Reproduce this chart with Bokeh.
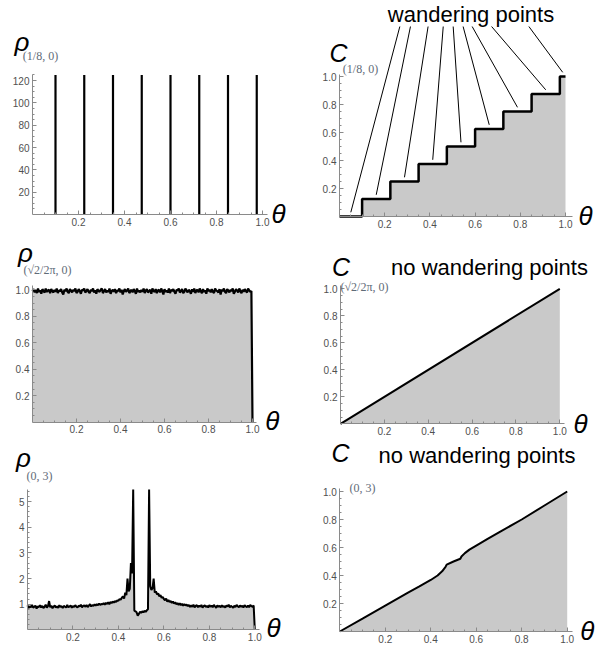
import numpy as np
from bokeh.plotting import figure
from bokeh.layouts import column, row
from bokeh.models import FixedTicker, PrintfTickFormatter, Label, Range1d
from bokeh.embed import file_html
from bokeh.resources import INLINE

# ---------------- data ----------------
# panel 1: density of (1/8, 0): atoms (spikes); plot range clips them at 125
atom_theta = [0.1, 0.225, 0.35, 0.475, 0.6, 0.725, 0.85, 0.975]
atom_rho = [130, 130, 130, 130, 130, 130, 130, 130]
rho1_top = 125

# panel 2: cumulative C for (1/8, 0): staircase
step_theta = [0.0, 0.1, 0.225, 0.35, 0.475, 0.6, 0.725, 0.85, 0.975, 1.0]
step_C = [0.0, 0.125, 0.25, 0.375, 0.5, 0.625, 0.75, 0.875, 1.0, 1.0]
# anchor points of pointer lines under the "wandering points" text
pointer_top_x = [0.267, 0.314, 0.392, 0.459, 0.503, 0.547, 0.587, 0.673, 0.838]
pointer_top_y = 1.357

# panel 3: density of (sqrt2/2pi, 0), sampled on an even grid over [0, 1]
rho_sqrt2 = [
    0.99, 1.005, 0.98, 1.0, 0.975, 1.01, 0.985, 0.995, 0.97, 1.005, 0.99, 0.98, 1.01, 0.985, 0.995, 1.0, 0.975, 1.005, 0.99, 0.98,
    1.0, 0.985, 1.01, 0.975, 0.995, 0.99, 1.005, 0.98, 0.965, 1.0, 0.99, 1.01, 0.985, 0.975, 1.005, 0.995, 0.98, 1.0, 0.99, 1.01,
    0.975, 0.985, 1.005, 0.99, 0.97, 1.0, 0.995, 1.01, 0.98, 0.99, 1.005, 0.985, 0.975, 1.0, 0.99, 1.01, 0.98, 0.995, 0.97, 1.005,
    0.99, 0.985, 1.0, 1.01, 0.975, 0.99, 1.005, 0.98, 0.995, 0.985, 1.01, 0.97, 0.99, 1.0, 0.985, 1.005, 0.975, 0.995, 0.99, 1.01,
    0.98, 1.0, 0.965, 0.99, 1.005, 0.985, 0.995, 1.01, 0.975, 0.99, 1.0, 0.98, 1.005, 0.99, 0.97, 1.01, 0.985, 0.995, 0.98, 1.0,
    0.985, 1.01, 0.975, 0.995, 1.005, 0.98, 0.99, 1.0, 0.97, 1.01, 0.99, 0.985, 1.005, 0.975, 0.995, 1.0, 0.98, 1.01, 0.99, 0.965,
    1.005, 0.985, 0.995, 0.98, 1.01, 0.975, 1.0, 0.99, 1.005, 0.985, 0.97, 1.0, 0.995, 1.01, 0.98, 0.99, 1.005, 0.975, 0.985, 1.01,
    0.995, 0.98, 1.0, 0.99, 0.97, 1.005, 0.985, 1.01, 0.975, 0.995, 1.0, 0.98, 1.01, 0.99, 0.975, 1.005, 0.985, 0.995, 0.97, 1.01,
    0.99, 1.0, 0.98, 1.005, 0.985, 0.975, 1.01, 0.995, 0.99, 0.98, 1.005, 0.965, 1.0, 0.99, 1.01, 0.985, 0.975, 1.005, 0.995, 0.98,
    1.0, 0.99, 1.01, 0.97, 0.985, 1.005, 0.995, 0.98, 1.01, 0.99, 0.975, 1.0, 0.985, 1.005, 0.99, 0.98, 1.01, 0.995, 0.985, 0.99,
    0.0,
]

# panel 4: cumulative C for (sqrt2/2pi, 0)
lin_theta = [0.0, 1.0]
lin_C = [0.0, 1.0]

# panel 5: density of (0, 3), sampled on an even grid over [0, 1]; plot range clips at 5.47
rho_03 = [
    0.95, 0.85, 0.92, 0.88, 0.97, 0.86, 0.9, 0.94, 0.83, 0.91, 0.89, 0.96, 0.87, 0.93, 0.85, 0.9, 0.98, 0.86, 0.92, 1.12,
    0.88, 0.94, 0.84, 0.9, 0.95, 0.87, 0.91, 0.86, 0.96, 0.89, 0.92, 0.85, 0.93, 0.9, 0.87, 0.97, 0.88, 0.91, 0.95, 0.86,
    0.93, 0.89, 0.96, 0.9, 0.87, 0.94, 0.91, 0.98, 0.88, 0.93, 0.95, 0.9, 0.97, 0.89, 0.94, 1.0, 0.91, 0.96, 0.93, 0.99,
    0.94, 1.0, 0.96, 1.02, 0.97, 1.01, 0.99, 1.04, 0.98, 1.05, 1.01, 1.07, 1.0, 1.08, 1.04, 1.1, 1.06, 1.12, 1.09, 1.15,
    1.13, 1.2, 1.17, 1.25, 1.3, 1.22, 1.45, 1.35, 2.0, 1.5, 1.6, 2.6,
    2.2, 8.0,
    0.75, 0.72, 0.68, 0.55, 0.62, 0.7, 0.66, 0.72, 0.68, 0.74, 0.7, 0.76, 0.8,
    8.0,
    1.7, 1.55, 1.62, 2.0, 1.45, 1.5, 1.38, 1.42, 1.3, 1.35, 1.25, 1.28, 1.2,
    1.15, 1.22, 1.1, 1.16, 1.08, 1.12, 1.05, 1.1, 1.02, 1.07, 1.0, 1.04, 0.97, 1.03, 0.96, 1.01, 0.94, 1.0, 0.95, 0.98,
    0.92, 0.97, 0.89, 0.95, 0.9, 0.98, 0.87, 0.93, 0.96, 0.88, 0.94, 0.9, 0.97, 0.86, 0.92, 0.95, 0.89, 0.93, 0.87, 0.96,
    0.9, 0.94, 0.88, 0.97, 0.91, 0.86, 0.95, 0.9, 0.93, 0.88, 0.96, 0.89, 0.92, 0.87, 0.95, 0.91, 0.98, 0.88, 0.93, 0.9,
    0.86, 0.94, 0.89, 0.97, 0.92, 0.88, 0.95, 0.9, 0.93, 0.87, 0.96, 0.91, 0.89, 0.94, 0.88, 0.97, 0.92, 0.9, 0.95,
    0.0,
]
rho5_top = 5.47

# panel 6: cumulative C for (0, 3)
cum_theta = [0.0, 0.1, 0.2, 0.3, 0.35, 0.4, 0.43, 0.45, 0.465, 0.47, 0.5, 0.53, 0.535, 0.55, 0.57, 0.6, 0.65, 0.7, 0.8, 0.9, 1.0]
cum_C = [0.0, 0.092, 0.185, 0.277, 0.322, 0.368, 0.40, 0.43, 0.462, 0.478, 0.5, 0.52, 0.536, 0.56, 0.585, 0.614, 0.662, 0.708, 0.80, 0.90, 1.0]

theta_ticks = [0.2, 0.4, 0.6, 0.8, 1.0]
unit_ticks = [0.2, 0.4, 0.6, 0.8, 1.0]
rho1_ticks = [20, 40, 60, 80, 100, 120]
rho5_ticks = [1, 2, 3, 4, 5]

# ---------------- style / layout ----------------
FILL = "#c9c9c9"
AXIS = "#8a8a8a"
TICKLAB = "#505050"
SUBCOL = "#5f6b78"
SANS = "Liberation Sans"
SERIF = "Liberation Serif"

# the page has no body margin: figures start at the page's top-left corner
COLX = [0, 308]
COLW = [308, 304]
ROWY = [0, 232, 437]
ROWH = [232, 205, 213]

unit_minor = [round(0.05 * k, 2) for k in range(1, 21)]


def make_panel(col, rw, ox, oy, sx, sy, x_bound, y_bound,
               xticks, xminor, xfmt, yticks, yminor, yfmt):
    """ox, oy: page position of the axes origin; sx, sy: pixels per data unit."""
    x0, w = COLX[col], COLW[col]
    y0, h = ROWY[rw], ROWH[rw]
    xr = Range1d((x0 - ox) / sx, (x0 + w - ox) / sx)
    yr = Range1d((oy - (y0 + h)) / sy, (oy - y0) / sy)
    p = figure(width=w, height=h, x_range=xr, y_range=yr, title=None,
               output_backend="svg", toolbar_location=None,
               min_border=0, min_border_left=0, min_border_right=0,
               min_border_top=0, min_border_bottom=0)
    p.grid.visible = False
    p.outline_line_color = None
    p.background_fill_color = "white"
    p.border_fill_color = "white"
    for ax, ticks, minor, fmt, bnd in ((p.xaxis[0], xticks, xminor, xfmt, x_bound),
                                       (p.yaxis[0], yticks, yminor, yfmt, y_bound)):
        ax.fixed_location = 0
        ax.bounds = bnd
        ax.ticker = FixedTicker(ticks=ticks, minor_ticks=minor)
        ax.formatter = PrintfTickFormatter(format=fmt)
        ax.axis_line_color = AXIS
        ax.major_tick_line_color = AXIS
        ax.minor_tick_line_color = AXIS
        ax.major_tick_in = 4
        ax.major_tick_out = 0
        ax.minor_tick_in = 2
        ax.minor_tick_out = 0
        ax.major_label_text_font = SANS
        ax.major_label_text_font_size = "10px"
        ax.major_label_text_color = TICKLAB
        ax.major_label_standoff = 3
    p.tags = [dict(ox=ox, oy=oy, sx=sx, sy=sy)]
    return p


def lab(p, px, py, text, size, font=SANS, style="italic", color="black"):
    g = p.tags[0]
    p.add_layout(Label(x=(px - g["ox"]) / g["sx"], y=(g["oy"] - py) / g["sy"], text=text,
                       text_font=font, text_font_size=size, text_font_style=style,
                       text_color=color, text_align="center", text_baseline="middle"))


# ---- panel 1 ----
p1 = make_panel(0, 0, 32, 214, 230, 134 / 120, (0, 1.02), (0, rho1_top),
                theta_ticks, unit_minor, "%.1f", rho1_ticks, list(range(5, 126, 5)), "%d")
p1.segment(x0=atom_theta, y0=[0] * len(atom_theta), x1=atom_theta,
           y1=np.minimum(atom_rho, rho1_top), line_color="black", line_width=2.2)
lab(p1, 21.5, 41, "ρ", "26px")
lab(p1, 40, 55, "(1/8, 0)", "12px", SERIF, "normal", SUBCOL)
lab(p1, 278, 213, "θ", "26px")

# ---- panel 2 ----
p2 = make_panel(1, 0, 339, 216, 226, 140, (0, 1.03), (0, 1.014),
                theta_ticks, unit_minor, "%.1f", unit_ticks, unit_minor, "%.1f")
p2.varea_step(x=step_theta, y1=[0] * len(step_theta), y2=step_C, step_mode="after", fill_color=FILL)
p2.step(x=step_theta, y=step_C, mode="after", line_color="black", line_width=2.5)
flat_start = step_theta[:-1]
flat_end = step_theta[1:]
flat_mid = [(a + b) / 2 for a, b in zip(flat_start, flat_end)]
flat_level = [0.0] + step_C[1:-1]
p2.segment(x0=pointer_top_x, y0=[pointer_top_y] * len(pointer_top_x),
           x1=flat_mid, y1=[v + 0.03 for v in flat_level],
           line_color="black", line_width=1)
lab(p2, 470.5, 14, "wandering points", "22px", SANS, "normal")
lab(p2, 338, 52, "C", "25px")
lab(p2, 360, 68, "(1/8, 0)", "12px", SERIF, "normal", SUBCOL)
lab(p2, 585, 215, "θ", "26px")

# ---- panel 3 ----
th3 = np.linspace(0, 1, len(rho_sqrt2))
p3 = make_panel(0, 1, 32, 421.7, 220, 132.4, (0, 1.02), (0, 1.032),
                theta_ticks, unit_minor, "%.1f", unit_ticks, unit_minor, "%.1f")
p3.varea(x=th3, y1=np.zeros(len(th3)), y2=rho_sqrt2, fill_color=FILL)
p3.line(th3, rho_sqrt2, line_color="black", line_width=2.2)
lab(p3, 25, 252, "ρ", "26px")
lab(p3, 47, 269, "(√2/2π, 0)", "12px", SERIF, "normal", SUBCOL)
lab(p3, 271.7, 420, "θ", "26px")

# ---- panel 4 ----
p4 = make_panel(1, 1, 340, 423.3, 219.3, 135, (0, 1.02), (0, 1.024),
                theta_ticks, unit_minor, "%.1f", unit_ticks, unit_minor, "%.1f")
p4.varea(x=lin_theta, y1=[0, 0], y2=lin_C, fill_color=FILL)
p4.line(lin_theta, lin_C, line_color="black", line_width=2)
lab(p4, 340.5, 266, "C", "25px")
lab(p4, 364, 286, "(√2/2π, 0)", "12px", SERIF, "normal", SUBCOL)
lab(p4, 489, 266.5, "no wandering points", "22px", SANS, "normal")
lab(p4, 580, 423, "θ", "26px")

# ---- panel 5 ----
th5 = np.linspace(0, 1, len(rho_03))
rho5_shown = np.minimum(rho_03, rho5_top)
p5 = make_panel(0, 2, 27, 629.3, 227.3, 25.65, (0, 1.02), (0, rho5_top),
                theta_ticks, unit_minor, "%.1f", rho5_ticks, [round(0.2 * k, 1) for k in range(1, 28)], "%d")
p5.varea(x=th5, y1=np.zeros(len(th5)), y2=rho5_shown, fill_color=FILL)
p5.line(th5, rho5_shown, line_color="black", line_width=2)
lab(p5, 23, 457, "ρ", "26px")
lab(p5, 39, 475, "(0, 3)", "12px", SERIF, "normal", SUBCOL)
lab(p5, 273, 627, "θ", "26px")

# ---- panel 6 ----
p6 = make_panel(1, 2, 339.3, 631, 227.4, 140, (0, 1.022), (0, 1.02),
                theta_ticks, unit_minor, "%.1f", unit_ticks, unit_minor, "%.1f")
p6.varea(x=cum_theta, y1=[0] * len(cum_theta), y2=cum_C, fill_color=FILL)
p6.line(cum_theta, cum_C, line_color="black", line_width=2)
lab(p6, 340, 452, "C", "25px")
lab(p6, 362, 487, "(0, 3)", "12px", SERIF, "normal", SUBCOL)
lab(p6, 476.5, 455, "no wandering points", "22px", SANS, "normal")
lab(p6, 586.7, 630, "θ", "26px")

layout = column(row(p1, p2), row(p3, p4), row(p5, p6))
open("out.html", "w").write(file_html(layout, INLINE))
